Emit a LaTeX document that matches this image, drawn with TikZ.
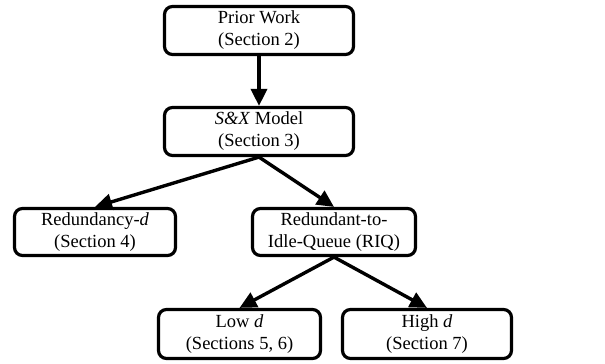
\documentclass[tikz,border=0pt]{standalone}
\usepackage{fontspec}
\setmainfont{Liberation Serif}
\usetikzlibrary{arrows.meta}
\begin{document}
\begin{tikzpicture}[x=1pt,y=-1pt,
  box/.style={draw, line width=3.2pt, rounded corners=8pt, align=center, inner sep=0pt,
    font=\fontsize{18.5}{22}\selectfont},
  conn/.style={line width=3.4pt, -{Triangle[length=17pt,width=16pt]}}]
\useasboundingbox (0,0) rectangle (605,364);
\node[box, minimum width=189pt, minimum height=48pt] (prior) at (259,30.5) {Prior Work\\(Section 2)};
\node[box, minimum width=189pt, minimum height=48pt] (sx) at (259,131.5) {\textit{S\&X} Model\\(Section 3)};
\node[box, minimum width=161pt, minimum height=47pt] (red) at (95,232) {Redundancy-\textit{d}\\(Section 4)};
\node[box, minimum width=163pt, minimum height=47pt] (riq) at (334,232) {Redundant-to-\\Idle-Queue (RIQ)};
\node[box, minimum width=162pt, minimum height=49pt] (low) at (239.5,334) {Low \textit{d}\\(Sections 5, 6)};
\node[box, minimum width=169pt, minimum height=49pt] (high) at (427,334) {High \textit{d}\\(Section 7)};
\draw[conn] (prior.south) -- (sx.north);
\draw[conn] (sx.south) -- (red.north);
\draw[conn] (sx.south) -- (riq.north);
\draw[conn] (riq.south) -- (low.north);
\draw[conn] (riq.south) -- (high.north);
\end{tikzpicture}
\end{document}
